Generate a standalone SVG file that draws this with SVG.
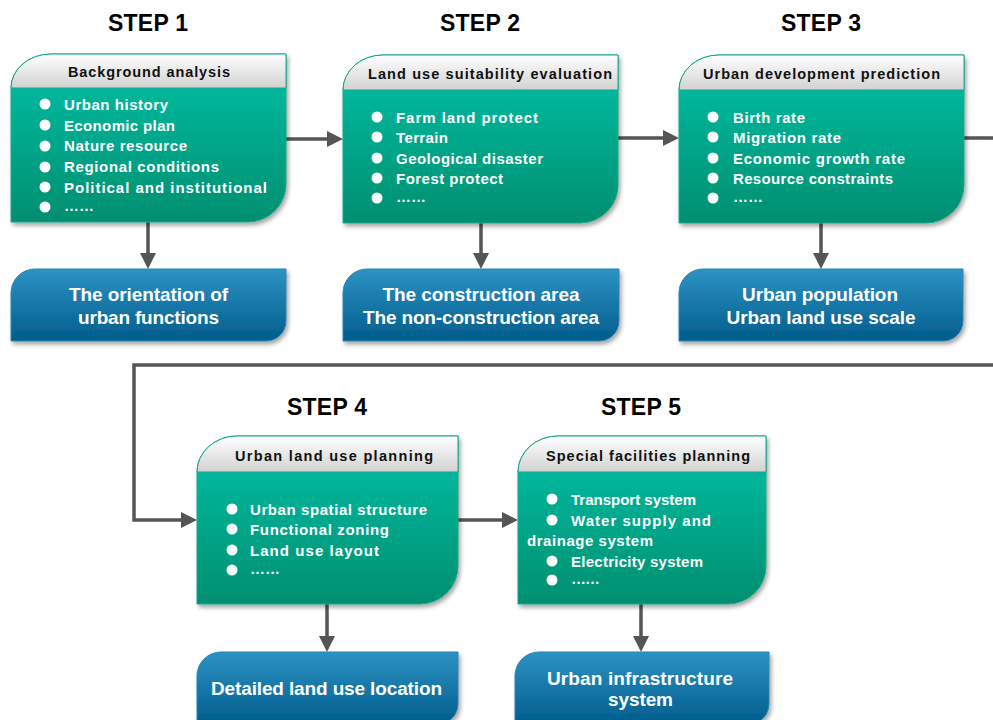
<svg xmlns="http://www.w3.org/2000/svg" width="993" height="720" viewBox="0 0 993 720">
<defs>
  <linearGradient id="gTeal" x1="0" y1="0" x2="0" y2="1">
    <stop offset="0" stop-color="#00c1a6"/>
    <stop offset="1" stop-color="#008f70"/>
  </linearGradient>
  <linearGradient id="gHead" x1="0" y1="0" x2="0" y2="1">
    <stop offset="0" stop-color="#ffffff"/>
    <stop offset="1" stop-color="#d2d2d2"/>
  </linearGradient>
  <linearGradient id="gBlue" x1="0" y1="0" x2="0" y2="1">
    <stop offset="0" stop-color="#2d92c4"/>
    <stop offset="1" stop-color="#005d8c"/>
  </linearGradient>
  <filter id="shadow" x="-10%" y="-10%" width="125%" height="130%">
    <feDropShadow dx="2" dy="3" stdDeviation="2" flood-color="#000" flood-opacity="0.35"/>
  </filter>
  <marker id="arrow" markerUnits="userSpaceOnUse" markerWidth="16" markerHeight="16" viewBox="0 0 16 16" refX="8" refY="8" orient="auto">
    <path d="M0 0 L16 8 L0 16 Z" fill="#555555"/>
  </marker>
</defs>
<style>
  text { font-family: "Liberation Sans", Arial, sans-serif; font-weight: bold; }
  .step { font-size: 23px; fill: #000; text-anchor: middle; }
  .body { fill: url(#gTeal); stroke: #14a68a; stroke-width: 1; filter: url(#shadow); }
  .head { fill: url(#gHead); stroke: #14a68a; stroke-width: 1; }
  .htxt { font-size: 14.5px; fill: #111; text-anchor: middle; }
  .item { font-size: 15px; fill: #ffffff; }
  .bul { fill: #ffffff; }
  .res { fill: url(#gBlue); stroke: #2b84b6; stroke-width: 1; filter: url(#shadow); }
  .rtxt { font-size: 19px; fill: #ffffff; text-anchor: middle; }
  .conn { fill: none; stroke: #555555; stroke-width: 3.5; }
</style>
<rect width="993" height="720" fill="#ffffff"/>

<g id="steps">
  <text class="step" x="148" y="31" textLength="80">STEP 1</text>
  <text class="step" x="480" y="31" textLength="80">STEP 2</text>
  <text class="step" x="821" y="31" textLength="80">STEP 3</text>
  <text class="step" x="327" y="415" textLength="80">STEP 4</text>
  <text class="step" x="641" y="415" textLength="80">STEP 5</text>
</g>

<g id="connectors">
  <path class="conn" d="M148 222 V261" marker-end="url(#arrow)"/>
  <path class="conn" d="M481 223 V261" marker-end="url(#arrow)"/>
  <path class="conn" d="M821 223 V261" marker-end="url(#arrow)"/>
  <path class="conn" d="M286 139 H335" marker-end="url(#arrow)"/>
  <path class="conn" d="M618 138 H671" marker-end="url(#arrow)"/>
  <path class="conn" d="M964 138 H995"/>
  <path class="conn" d="M995 365 H134 V520 H189" marker-end="url(#arrow)"/>
  <path class="conn" d="M458 520 H510" marker-end="url(#arrow)"/>
  <path class="conn" d="M327 604 V644" marker-end="url(#arrow)"/>
  <path class="conn" d="M641 604 V644" marker-end="url(#arrow)"/>
</g>

<g id="step1">
  <path class="body" d="M11 88 A40 34 0 0 1 51 54 H286 V184 A38 38 0 0 1 248 222 H11 Z"/>
  <path class="head" d="M11 88 A40 34 0 0 1 51 54 H286 V88 Z"/>
  <text class="htxt" x="149" y="77" textLength="162">Background analysis</text>
  <circle class="bul" cx="45" cy="104" r="5.5"/><text class="item" x="64" y="110" textLength="104">Urban history</text>
  <circle class="bul" cx="45" cy="125" r="5.5"/><text class="item" x="64" y="130.5" textLength="111">Economic plan</text>
  <circle class="bul" cx="45" cy="146" r="5.5"/><text class="item" x="64" y="151" textLength="123">Nature resource</text>
  <circle class="bul" cx="45" cy="167" r="5.5"/><text class="item" x="64" y="172" textLength="155">Regional conditions</text>
  <circle class="bul" cx="45" cy="187" r="5.5"/><text class="item" x="64" y="192.5" textLength="203">Political and institutional</text>
  <circle class="bul" cx="45" cy="207" r="5.5"/><text class="item" x="64" y="211" textLength="30">……</text>
</g>

<g id="step2">
  <path class="body" d="M343 90 A40 35 0 0 1 383 55 H618 V185 A38 38 0 0 1 580 223 H343 Z"/>
  <path class="head" d="M343 90 A40 35 0 0 1 383 55 H618 V90 Z"/>
  <text class="htxt" x="490" y="79" textLength="244">Land use suitability evaluation</text>
  <circle class="bul" cx="377" cy="117" r="5.5"/><text class="item" x="396" y="122.5" textLength="142">Farm land protect</text>
  <circle class="bul" cx="377" cy="137" r="5.5"/><text class="item" x="396" y="142.5" textLength="52">Terrain</text>
  <circle class="bul" cx="377" cy="158" r="5.5"/><text class="item" x="396" y="163.5" textLength="147">Geological disaster</text>
  <circle class="bul" cx="377" cy="178" r="5.5"/><text class="item" x="396" y="183.5" textLength="107">Forest protect</text>
  <circle class="bul" cx="377" cy="198" r="5.5"/><text class="item" x="396" y="202" textLength="30">……</text>
</g>

<g id="step3">
  <path class="body" d="M679 90 A40 35 0 0 1 719 55 H964 V185 A38 38 0 0 1 926 223 H679 Z"/>
  <path class="head" d="M679 90 A40 35 0 0 1 719 55 H964 V90 Z"/>
  <text class="htxt" x="821.5" y="79" textLength="237">Urban development prediction</text>
  <circle class="bul" cx="713" cy="117" r="5.5"/><text class="item" x="733" y="122.5" textLength="72">Birth rate</text>
  <circle class="bul" cx="713" cy="137" r="5.5"/><text class="item" x="733" y="142.5" textLength="108">Migration rate</text>
  <circle class="bul" cx="713" cy="158" r="5.5"/><text class="item" x="733" y="163.5" textLength="172">Economic growth rate</text>
  <circle class="bul" cx="713" cy="178" r="5.5"/><text class="item" x="733" y="183.5" textLength="160">Resource constraints</text>
  <circle class="bul" cx="713" cy="198" r="5.5"/><text class="item" x="733" y="202" textLength="30">……</text>
</g>

<g id="step4">
  <path class="body" d="M197 472 A40 36 0 0 1 237 436 H458 V566 A38 38 0 0 1 420 604 H197 Z"/>
  <path class="head" d="M197 472 A40 36 0 0 1 237 436 H458 V472 Z"/>
  <text class="htxt" x="334" y="460.5" textLength="198">Urban land use planning</text>
  <circle class="bul" cx="232" cy="509" r="5.5"/><text class="item" x="250" y="514.5" textLength="177">Urban spatial structure</text>
  <circle class="bul" cx="232" cy="529" r="5.5"/><text class="item" x="250" y="534.5" textLength="139">Functional zoning</text>
  <circle class="bul" cx="232" cy="550" r="5.5"/><text class="item" x="250" y="555.5" textLength="129">Land use layout</text>
  <circle class="bul" cx="232" cy="570" r="5.5"/><text class="item" x="250" y="574" textLength="30">……</text>
</g>

<g id="step5">
  <path class="body" d="M518 472 A40 36 0 0 1 558 436 H766 V566 A38 38 0 0 1 728 604 H518 Z"/>
  <path class="head" d="M518 472 A40 36 0 0 1 558 436 H766 V472 Z"/>
  <text class="htxt" x="648" y="460.5" textLength="204">Special facilities planning</text>
  <circle class="bul" cx="552" cy="499" r="5.5"/><text class="item" x="571" y="504.5" textLength="125">Transport system</text>
  <circle class="bul" cx="552" cy="520" r="5.5"/><text class="item" x="571" y="525.5" textLength="140">Water supply and</text>
  <text class="item" x="527" y="545.5" textLength="126">drainage system</text>
  <circle class="bul" cx="552" cy="561" r="5.5"/><text class="item" x="571" y="566.5" textLength="132">Electricity system</text>
  <circle class="bul" cx="552" cy="580" r="5.5"/><text class="item" x="571" y="584" textLength="29">……</text>
</g>

<g id="result1">
  <path class="res" d="M11 293 A24 24 0 0 1 35 269 H286 V321 A20 20 0 0 1 266 341 H11 Z"/>
  <text class="rtxt" x="148.5" y="301" textLength="159">The orientation of</text>
  <text class="rtxt" x="148.5" y="324" textLength="141">urban functions</text>
</g>

<g id="result2">
  <path class="res" d="M343 293 A24 24 0 0 1 367 269 H619 V321 A20 20 0 0 1 599 341 H343 Z"/>
  <text class="rtxt" x="481" y="301" textLength="197">The construction area</text>
  <text class="rtxt" x="481" y="324" textLength="236">The non-construction area</text>
</g>

<g id="result3">
  <path class="res" d="M679 293 A24 24 0 0 1 703 269 H963 V321 A20 20 0 0 1 943 341 H679 Z"/>
  <text class="rtxt" x="820" y="301" textLength="156">Urban population</text>
  <text class="rtxt" x="821" y="324" textLength="189">Urban land use scale</text>
</g>

<g id="result4">
  <path class="res" d="M197 676 A24 24 0 0 1 221 652 H458 V704 A20 20 0 0 1 438 724 H197 Z"/>
  <text class="rtxt" x="326.5" y="695" textLength="231">Detailed land use location</text>
</g>

<g id="result5">
  <path class="res" d="M515 676 A24 24 0 0 1 539 652 H769 V704 A20 20 0 0 1 749 724 H515 Z"/>
  <text class="rtxt" x="640" y="685" textLength="186">Urban  infrastructure</text>
  <text class="rtxt" x="640.5" y="706" textLength="65">system</text>
</g>
</svg>
